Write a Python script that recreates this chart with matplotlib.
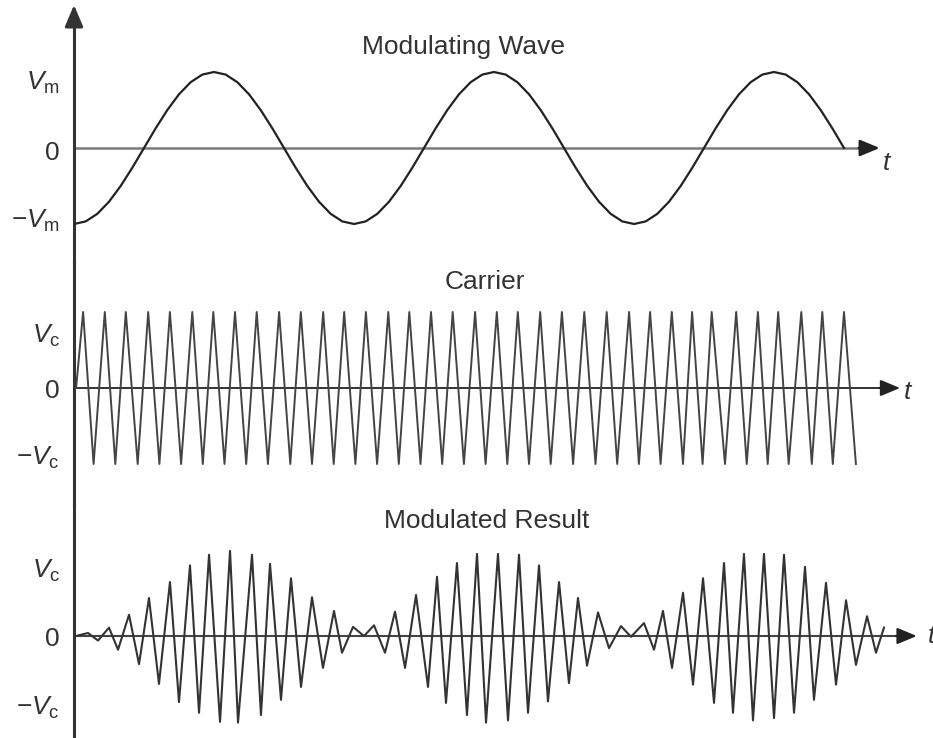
import numpy as np
import matplotlib.pyplot as plt

plt.rcParams['font.family'] = ['Liberation Sans', 'DejaVu Sans']
plt.rcParams['mathtext.fontset'] = 'custom'
plt.rcParams['mathtext.rm'] = 'Liberation Sans'
plt.rcParams['mathtext.it'] = 'Liberation Sans:italic'

# ---- data (time in ms, amplitudes in units of Vm / Vc) ----
# modulating wave, sampled every 40/24 ms
mod_step = 40 / 24
mod_v = [-1, -0.966, -0.866, -0.707, -0.5, -0.259, 0, 0.259, 0.5, 0.707, 0.866, 0.966,
         1, 0.966, 0.866, 0.707, 0.5, 0.259, 0, -0.259, -0.5, -0.707, -0.866, -0.966,
         -1, -0.966, -0.866, -0.707, -0.5, -0.259, 0, 0.259, 0.5, 0.707, 0.866, 0.966,
         1, 0.966, 0.866, 0.707, 0.5, 0.259, 0, -0.259, -0.5, -0.707, -0.866, -0.966,
         -1, -0.966, -0.866, -0.707, -0.5, -0.259, 0, 0.259, 0.5, 0.707, 0.866, 0.966,
         1, 0.966, 0.866, 0.707, 0.5, 0.259, 0]

# carrier (triangle): peak / trough times
carrier_start_t = 0.3
carrier_peak_t = [1.3, 4.4, 7.4, 10.6, 13.7, 16.9, 19.9, 23.0, 26.1, 29.3, 32.4, 35.6,
                  38.6, 41.7, 44.9, 47.9, 51.0, 54.1, 57.3, 60.4, 63.4, 66.6, 69.7, 72.9,
                  76.1, 79.3, 82.3, 85.4, 88.3, 91.1, 94.6, 97.7, 100.6, 103.9, 106.9, 110.0]
carrier_trough_t = [2.8, 5.9, 9.1, 12.2, 15.3, 18.4, 21.5, 24.6, 27.7, 30.9, 34.0, 37.1,
                    40.2, 43.3, 46.4, 49.5, 52.6, 55.7, 58.8, 61.9, 65.0, 68.1, 71.3, 74.5,
                    77.6, 80.7, 83.8, 87.0, 89.8, 93.0, 96.1, 99.1, 102.1, 105.4, 108.4, 111.7]
carrier_peak_v = 1.0

# modulated result: vertices
am_t = [0.3, 2.0, 3.43, 5.0, 6.29, 7.86, 9.29, 10.71, 12.14, 13.71, 15.0, 16.57, 17.86,
        19.29, 20.86, 22.29, 23.43, 25.43, 26.71, 28.0, 29.57, 31.0, 32.43, 34.0, 35.57,
        37.14, 38.29, 39.86, 41.43, 42.86, 44.43, 45.86, 47.29, 48.86, 50.57, 51.86, 53.14,
        54.71, 56.14, 57.57, 58.86, 60.57, 62.0, 63.57, 64.86, 66.43, 67.71, 69.29, 70.71,
        72.0, 73.29, 74.86, 76.43, 78.14, 79.57, 81.43, 82.86, 84.14, 85.43, 87.0, 88.43,
        89.86, 91.43, 92.86, 94.14, 95.71, 97.0, 98.57, 100.0, 101.43, 102.86, 104.43,
        105.71, 107.43, 108.86, 110.29, 111.71, 113.29, 114.57, 115.71]
am_v = [0.0, 0.04, -0.06, 0.11, -0.18, 0.28, -0.37, 0.50, -0.63, 0.71, -0.87, 0.93, -1.01,
        1.07, -1.13, 1.12, -1.14, 1.07, -1.04, 0.95, -0.84, 0.76, -0.67, 0.51, -0.42,
        0.33, -0.22, 0.12, 0.0, 0.14, -0.22, 0.32, -0.42, 0.54, -0.67, 0.78, -0.88,
        0.96, -1.04, 1.08, -1.14, 1.08, -1.11, 1.07, -1.01, 0.93, -0.86, 0.71, -0.62,
        0.50, -0.39, 0.31, -0.16, 0.13, -0.01, 0.17, -0.18, 0.33, -0.42, 0.57, -0.64,
        0.76, -0.88, 0.96, -1.01, 1.08, -1.11, 1.08, -1.08, 1.07, -1.01, 0.91,
        -0.84, 0.70, -0.64, 0.47, -0.38, 0.26, -0.22, 0.11]

titles = ['Modulating Wave', 'Carrier', 'Modulated Result']
tick_labels = [[r'$V_{\mathrm{m}}$', '0', r'$-V_{\mathrm{m}}$'],
               [r'$V_{\mathrm{c}}$', '0', r'$-V_{\mathrm{c}}$'],
               [r'$V_{\mathrm{c}}$', '0', r'$-V_{\mathrm{c}}$']]

# ---- layout (pixels) ----
W, H = 933, 738
PX, PY = 7.0, 76.0   # pixels per ms, pixels per unit
X0 = 74

fig = plt.figure(figsize=(W / 100, H / 100), dpi=100)


def make_axes(top, bottom, zero):
    ax = fig.add_axes([X0 / W, 1 - bottom / H, 1 - X0 / W, (bottom - top) / H])
    ax.set_xlim(0, (W - X0) / PX)
    ax.set_ylim(-(bottom - zero) / PY, (zero - top) / PY)
    for s in ['top', 'right', 'bottom']:
        ax.spines[s].set_visible(False)
    ax.spines['left'].set_color('#333333')
    ax.spines['left'].set_linewidth(2.2)
    ax.set_xticks([])
    ax.tick_params(axis='y', length=0, pad=10, labelsize=19, labelcolor='#333333')
    ax.patch.set_alpha(0)
    return ax


def t_axis(ax, tip, color, lw, lab_xy, ha='center'):
    ax.plot([0, tip - 1.5], [0, 0], color=color, lw=lw, zorder=1)
    ax.annotate('', xy=(tip, 0), xytext=(tip - 3, 0),
                arrowprops=dict(arrowstyle='-|>,head_length=1.2,head_width=0.5',
                                mutation_scale=10, color='#222222', lw=lw,
                                shrinkA=0, shrinkB=0))
    ax.text(lab_xy[0], lab_xy[1], 't', style='italic', fontsize=19, color='#333333',
            ha=ha, va='center')


ax1 = make_axes(0, 262, 148)
ax2 = make_axes(262, 505, 388)
ax3 = make_axes(505, 738, 636)

# top panel: vertical axis ends in an arrow head
ylo = ax1.get_ylim()[0]
ax1.spines['left'].set_bounds(ylo, 124 / PY)
ax1.annotate('', xy=(0, 143 / PY), xytext=(0, 126 / PY),
             arrowprops=dict(arrowstyle='-|>,head_length=1.3,head_width=0.55',
                             mutation_scale=10, color='#333333', lw=2.2,
                             shrinkA=0, shrinkB=0), annotation_clip=False)

# modulating wave
mod_t = np.arange(len(mod_v)) * mod_step
t_axis(ax1, 115.1, '#7a7a7a', 1.8, (116.1, -0.2))
ax1.plot(mod_t, mod_v, color='#222222', lw=1.6, zorder=3)
ax1.set_yticks([0.9, -0.03, -0.92])
ax1.set_yticklabels(tick_labels[0])
ax1.text(55.6, 1.33, titles[0], ha='center', va='center', fontsize=19, color='#333333')

# carrier
carrier_t = [carrier_start_t]
carrier_v = [0.0]
for tp, tt in zip(carrier_peak_t, carrier_trough_t):
    carrier_t += [tp, tt]
    carrier_v += [carrier_peak_v, -carrier_peak_v]
t_axis(ax2, 118.0, '#333333', 1.4, (119.0, -0.05))
ax2.plot(carrier_t, carrier_v, color='#444444', lw=1.4, zorder=3)
ax2.set_yticks([0.72, 0.0, -0.88])
ax2.set_yticklabels(tick_labels[1])
ax2.text(58.7, 1.39, titles[1], ha='center', va='center', fontsize=19, color='#333333')

# modulated result
t_axis(ax3, 120.4, '#444444', 1.5, (121.9, 0.0), ha='left')
ax3.plot(am_t, am_v, color='#333333', lw=1.5, zorder=3)
ax3.set_yticks([0.9, 0.0, -0.9])
ax3.set_yticklabels(tick_labels[2])
ax3.text(58.9, 1.51, titles[2], ha='center', va='center', fontsize=19, color='#333333')

fig.savefig('out.png', dpi=100)
